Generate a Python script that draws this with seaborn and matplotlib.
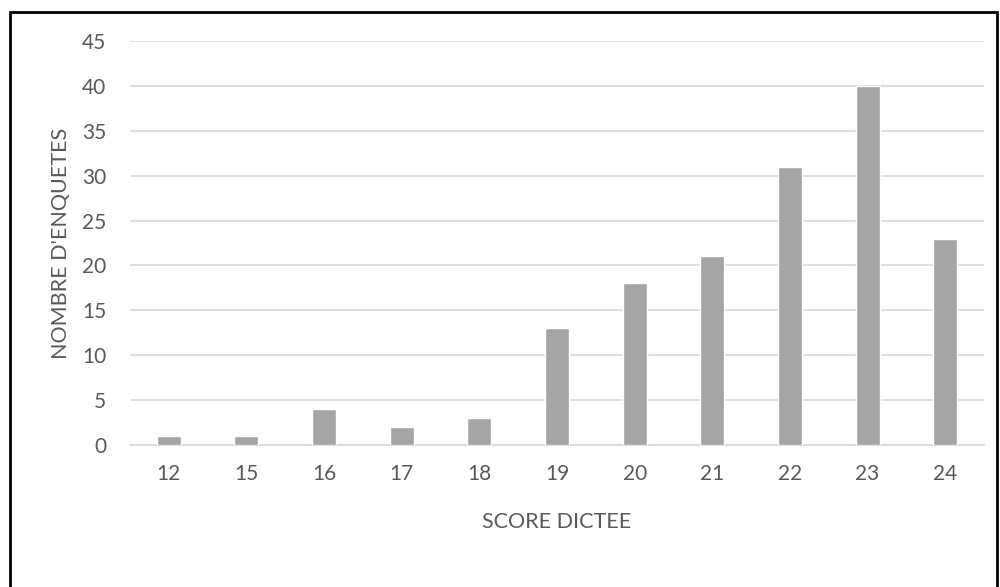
import matplotlib.pyplot as plt
import seaborn as sns
import pandas as pd

scores = ["12", "15", "16", "17", "18", "19", "20", "21", "22", "23", "24"]
counts = [1, 1, 4, 2, 3, 13, 18, 21, 31, 40, 23]

df = pd.DataFrame({"score": scores, "n": counts})

sns.set_theme(style="white")
plt.rcParams["font.family"] = ["Lato", "DejaVu Sans"]

fig = plt.figure(figsize=(10, 5.87), dpi=100)
ax = fig.add_axes([0.130, 0.242, 0.854, 0.688])

sns.barplot(data=df, x="score", y="n", color="#a5a5a5", saturation=1,
            width=0.31, ax=ax, zorder=3)

ax.set_ylim(0, 45)
ax.set_yticks(range(0, 46, 5))
ax.grid(axis="y", color="#d9d9d9", linewidth=1.2, zorder=0)
for s in ["top", "right", "left"]:
    ax.spines[s].set_visible(False)
ax.spines["bottom"].set_color("#d9d9d9")
ax.spines["bottom"].set_linewidth(1.2)
ax.tick_params(axis="both", length=0, labelsize=15, colors="#595959")
ax.tick_params(axis="x", pad=14)
ax.tick_params(axis="y", pad=17)

ax.set_xlabel("SCORE DICTEE", fontsize=15.5, color="#595959", labelpad=20)
ax.set_ylabel("NOMBRE D'ENQUETES", fontsize=15.5, color="#595959", labelpad=8)

# frame around the figure
fig.patches.append(plt.Rectangle((0.010, -0.01), 0.987, 0.99, transform=fig.transFigure,
                                 fill=False, edgecolor="black", linewidth=2))

fig.savefig("out.png", dpi=100)
